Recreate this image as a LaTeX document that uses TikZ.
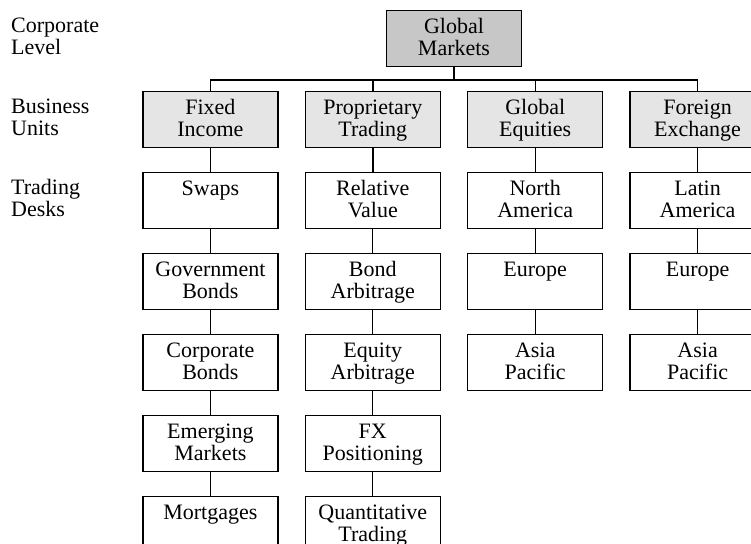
\documentclass[tikz,border=0pt]{standalone}
\usepackage{fontspec}
\setmainfont{Liberation Serif}
\usepackage{tikz-qtree}
\usetikzlibrary{trees}

\begin{document}
\begin{tikzpicture}[x=1pt,y=1pt,level distance=81pt,sibling distance=26pt]
		\tikzset{
			edge from parent/.style=
			{line width=1.4pt, draw,
			edge from parent path={(\tikzparentnode.south) -- +(0pt,-13pt) -| (\tikzchildnode.north)}},
			every tree node/.style=
			{draw,line width=1.4pt,anchor=north,text width=129pt,inner xsep=3pt,inner ysep=7pt,
			align=center,text height=15.5pt,text depth=26pt,font=\fontsize{22}{22}\selectfont},
			corpbox/.style={fill=black!22},
			unitbox/.style={fill=black!10},
			levelname/.style=
			{anchor=north west,text width=110pt,align=left,inner xsep=0pt,inner ysep=7pt,
			text height=15.5pt,text depth=26pt,font=\fontsize{22}{22}\selectfont},
		}
		\useasboundingbox (0,0) rectangle (751,-543);
		\node[levelname] (corp) at (11,-10) {Corporate\\Level};
		\node[levelname] (units) at (11,-91) {Business\\Units};
		\node[levelname] (desks) at (11,-172) {Trading\\Desks};
		\begin{scope}[shift={(454,-10)}]
		\Tree
		[.\node[corpbox](gm){Global\\Markets};
		[.\node[unitbox](fi){Fixed\\Income};
		[.\node(swaps){Swaps};
		[.\node(govt){Government\\Bonds};
		[.\node(corpb){Corporate\\Bonds};
		[.\node(em){Emerging\\Markets};
		\node(mort){Mortgages};
		] ] ] ] ]
		[.\node[unitbox](pt){Proprietary\\Trading};
		[.\node(rv){Relative\\Value};
		[.\node(ba){Bond\\Arbitrage};
		[.\node(ea){Equity\\Arbitrage};
		[.\node(fxp){FX\\Positioning};
		\node(qt){Quantitative\\Trading};
		] ] ] ] ]
		[.\node[unitbox](ge){Global\\Equities};
		[.\node(nam){North\\America};
		[.\node(eu1){Europe};
		\node(ap1){Asia\\Pacific};
		] ] ]
		[.\node[unitbox](fx){Foreign\\Exchange};
		[.\node(lam){Latin\\America};
		[.\node(eu2){Europe};
		\node(ap2){Asia\\Pacific};
		] ] ]
		]
		\end{scope}
\end{tikzpicture}
\end{document}
